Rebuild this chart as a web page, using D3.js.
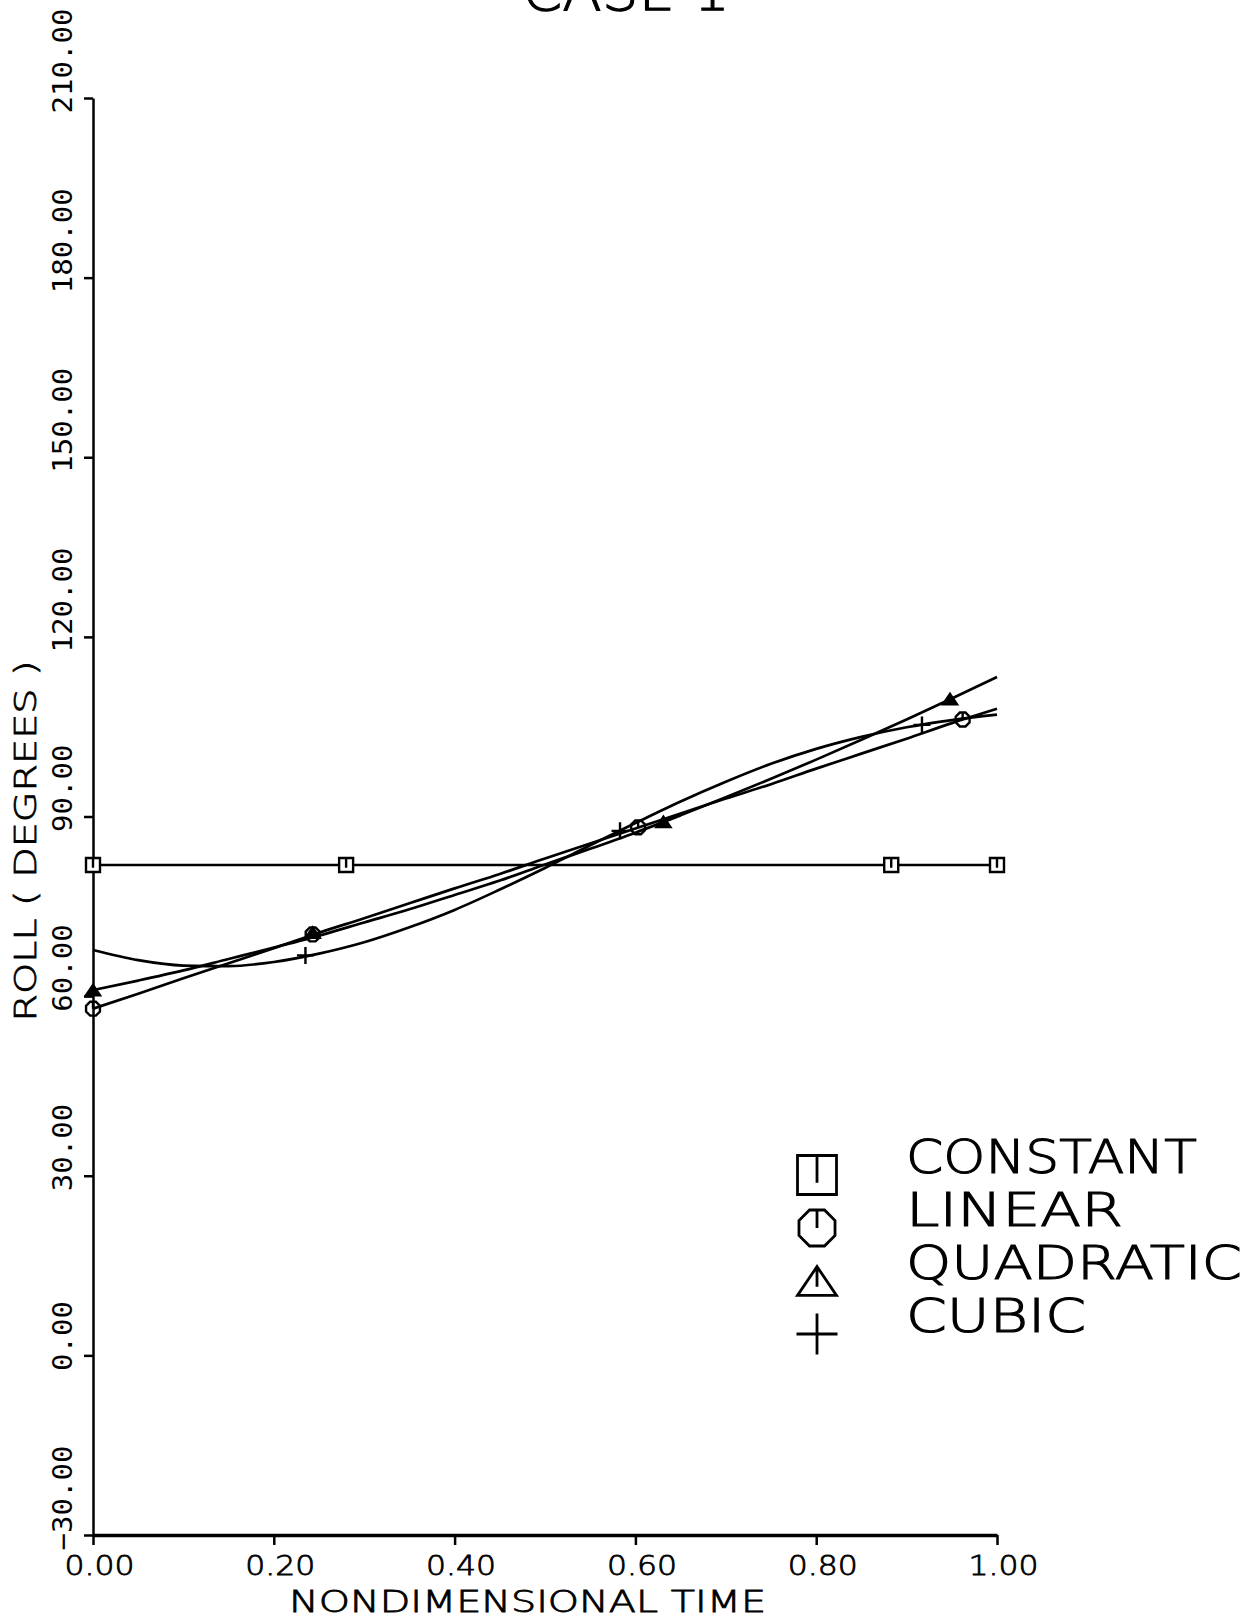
<!DOCTYPE html>
<html>
<head>
<meta charset="utf-8">
<script src="https://cdn.jsdelivr.net/npm/d3@7"></script>
<style>
  html, body { margin: 0; padding: 0; background: #fff; overflow: hidden; }
  svg { display: block; }
  .lbl { font-family: "DejaVu Sans", sans-serif; font-weight: 200; fill: #000; stroke: #000; stroke-width: 0.8px; }
  .num { font-family: "DejaVu Sans Mono", monospace; fill: #000; }
</style>
</head>
<body>
<div id="chart"></div>
<script>
// values (nondimensional time vs roll in degrees)
const timeGrid = [0, 0.05, 0.10, 0.15, 0.20, 0.25, 0.30, 0.35, 0.40, 0.45, 0.50,
                  0.55, 0.60, 0.65, 0.70, 0.75, 0.80, 0.85, 0.90, 0.95, 1.00];
const constantTime = [0, 1];
const constantRoll = [81.9, 81.9];
const linearRoll = [57.9, 60.4, 63.0, 65.5, 68.0, 70.6, 73.0, 75.5, 78.0, 80.4, 83.0,
                    85.5, 88.0, 90.5, 93.0, 95.4, 98.0, 100.5, 103.0, 105.6, 108.0];
const quadraticRoll = [61.0, 62.6, 64.3, 66.2, 68.1, 70.1, 72.3, 74.5, 76.9, 79.3, 82.0,
                       84.6, 87.3, 90.2, 93.2, 96.3, 99.5, 102.8, 106.2, 109.7, 113.3];
const cubicRoll = [67.7, 66.0, 65.1, 65.0, 65.7, 67.1, 69.0, 71.5, 74.4, 77.8, 81.4,
                   85.2, 88.9, 92.5, 95.8, 98.8, 101.3, 103.3, 104.9, 106.1, 107.0];

// plotted symbol positions [time, roll]
const constantMarks = [[0, 81.9], [0.28, 81.9], [0.883, 81.9], [1, 81.9]];
const linearMarks = [[0, 57.9], [0.243, 70.3], [0.603, 88.2], [0.962, 106.2]];
const quadraticMarks = [[0, 61.0], [0.243, 70.6], [0.631, 89.1], [0.948, 109.6]];
const cubicMarks = [[0.235, 66.8], [0.583, 87.6], [0.917, 105.3]];

const xTicks = [0, 0.2, 0.4, 0.6, 0.8, 1.0];
const yTicks = [-30, 0, 30, 60, 90, 120, 150, 180, 210];
const legendNames = ["CONSTANT", "LINEAR", "QUADRATIC", "CUBIC"];
const legendLengths = [291, 217, 336, 180];

const width = 1248, height = 1619;
const margin = { top: 98, right: 251, bottom: 84, left: 93 };

const svg = d3.select("#chart")
    .append("svg")
    .attr("width", width)
    .attr("height", height);

const x = d3.scaleLinear()
    .domain([0, 1])
    .range([margin.left, width - margin.right]);

const y = d3.scaleLinear()
    .domain([-30, 210])
    .range([height - margin.bottom, margin.top]);

// symbol shapes drawn like the plotter's: outline plus a short stroke
const shapes = {
    square: s => { const h = s / 2; return `M${-h},${-h}H${h}V${h}H${-h}Z M0,${-h}V${h * 0.4}`; },
    octagon: s => {
        const r = s / 2;
        const pts = d3.range(8).map(k => {
            const a = Math.PI / 8 + k * Math.PI / 4;
            return [r * Math.cos(a), r * Math.sin(a)];
        });
        return "M" + pts.join("L") + `Z M0,${-r}V0`;
    },
    triangle: s => { const h = s / 2, t = s * 0.37; return `M0,${-t}L${h},${t}L${-h},${t}Z M0,${-t}V${t * 0.4}`; },
    plus: s => { const h = s / 2; return `M${-h},0H${h} M0,${-h}V${h}`; }
};

// y axis
const yAxis = svg.append("g")
    .attr("transform", `translate(${margin.left},0)`)
    .call(d3.axisLeft(y).tickValues(yTicks).tickSize(9).tickSizeOuter(0).tickFormat(d3.format(".2f")));
yAxis.select(".domain").attr("stroke-width", 2.5);
yAxis.selectAll(".tick line").attr("stroke-width", 2.5);
yAxis.selectAll(".tick text")
    .attr("class", "num")
    .attr("font-size", 27)
    .attr("text-anchor", "start")
    .attr("transform", "rotate(-90)")
    .attr("x", -15)
    .attr("y", -21)
    .attr("dy", 0)
    .attr("textLength", function() { return this.textContent.length * 17.5; })
    .attr("lengthAdjust", "spacingAndGlyphs");

// x axis
const xAxis = svg.append("g")
    .attr("transform", `translate(0,${height - margin.bottom})`)
    .call(d3.axisBottom(x).tickValues(xTicks).tickSize(10).tickSizeOuter(0).tickFormat(d3.format(".2f")));
xAxis.select(".domain").attr("stroke-width", 3.5);
xAxis.selectAll(".tick line").attr("stroke-width", 2.5);
xAxis.selectAll(".tick text")
    .attr("class", "lbl")
    .attr("font-size", 27)
    .attr("x", 6)
    .attr("y", 40)
    .attr("dy", 0)
    .attr("textLength", 70)
    .attr("lengthAdjust", "spacingAndGlyphs");

// curves
const line = d3.line()
    .x(d => x(d[0]))
    .y(d => y(d[1]))
    .curve(d3.curveMonotoneX);

const series = [
    { t: constantTime, v: constantRoll },
    { t: timeGrid, v: linearRoll },
    { t: timeGrid, v: quadraticRoll },
    { t: timeGrid, v: cubicRoll }
];

svg.selectAll("path.curve")
    .data(series)
    .enter()
    .append("path")
    .attr("class", "curve")
    .attr("d", d => line(d.t.map((t, i) => [t, d.v[i]])))
    .attr("fill", "none")
    .attr("stroke", "#000")
    .attr("stroke-width", 2.7);

// markers on the curves
const markerSets = [
    { pts: constantMarks, shape: "square", size: 14, fill: "#fff" },
    { pts: linearMarks, shape: "octagon", size: 15, fill: "none" },
    { pts: quadraticMarks, shape: "triangle", size: 14, fill: "#000" },
    { pts: cubicMarks, shape: "plus", size: 17, fill: "none" }
];

markerSets.forEach(m => {
    svg.selectAll(null)
        .data(m.pts)
        .enter()
        .append("path")
        .attr("transform", d => `translate(${x(d[0])},${y(d[1])})`)
        .attr("d", shapes[m.shape](m.size))
        .attr("fill", m.fill)
        .attr("stroke", "#000")
        .attr("stroke-width", 2.4);
});

// legend
const legendShapes = ["square", "octagon", "triangle", "plus"];
const legend = svg.append("g");
legendNames.forEach((name, i) => {
    legend.append("path")
        .attr("transform", `translate(817,${1175 + i * 53})`)
        .attr("d", shapes[legendShapes[i]](i === 3 ? 41 : 39))
        .attr("fill", "none")
        .attr("stroke", "#000")
        .attr("stroke-width", 2.8);
    legend.append("text")
        .attr("class", "lbl")
        .attr("x", 906)
        .attr("y", 1173 + i * 53)
        .attr("font-size", 46)
        .style("stroke-width", "1.1px")
        .attr("textLength", legendLengths[i])
        .attr("lengthAdjust", "spacingAndGlyphs")
        .text(name);
});

// titles
svg.append("text")
    .attr("class", "lbl")
    .attr("x", 522)
    .attr("y", 10)
    .attr("font-size", 56)
    .style("stroke-width", "1.1px")
    .attr("textLength", 208)
    .attr("lengthAdjust", "spacingAndGlyphs")
    .text("CASE 1");

svg.append("text")
    .attr("class", "lbl")
    .attr("x", 289)
    .attr("y", 1612)
    .attr("font-size", 30)
    .attr("textLength", 477)
    .attr("lengthAdjust", "spacingAndGlyphs")
    .text("NONDIMENSIONAL TIME");

svg.append("text")
    .attr("class", "lbl")
    .attr("transform", "translate(36,841) rotate(-90)")
    .attr("text-anchor", "middle")
    .attr("font-size", 31)
    .attr("textLength", 361)
    .attr("lengthAdjust", "spacingAndGlyphs")
    .text("ROLL ( DEGREES )");
</script>
</body>
</html>
